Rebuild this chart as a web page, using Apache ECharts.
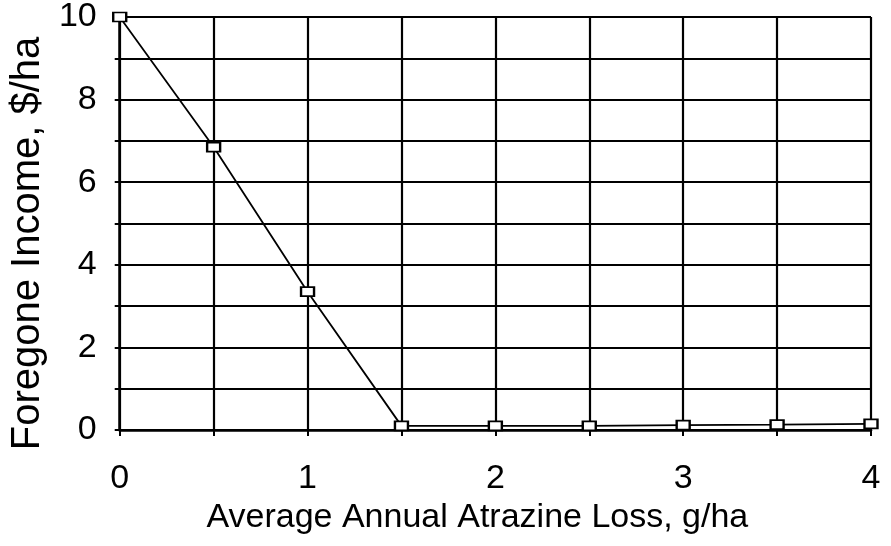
<!DOCTYPE html>
<html>
<head>
<meta charset="utf-8">
<style>
    html, body { margin: 0; padding: 0; background: #fff; }
    #chart { width: 891px; height: 546px; }
</style>
<script src="https://cdn.jsdelivr.net/npm/echarts@6/dist/echarts.min.js"></script>
</head>
<body>
<div id="chart"></div>
<script>
// atrazine loss (g/ha) vs foregone income ($/ha)
const atrazineLoss = [0, 0.5, 1, 1.5, 2, 2.5, 3, 3.5, 4];
const foregoneIncome = [10, 6.85, 3.35, 0.1, 0.1, 0.1, 0.12, 0.13, 0.15];
const xTickLabels = [0, 1, 2, 3, 4];
const yTickLabels = [0, 2, 4, 6, 8, 10];

const font = "'Liberation Sans', Arial, sans-serif";

let myChart = echarts.init(document.getElementById('chart'));
myChart.setOption({
    animation: false,
    backgroundColor: '#fff',
    grid: { left: 118, right: 20, top: 16, bottom: 116, containLabel: false },
    xAxis: {
        type: 'value',
        min: 0,
        max: 4,
        interval: 0.5,
        name: 'Average Annual Atrazine Loss, g/ha',
        nameLocation: 'middle',
        nameGap: 52,
        nameTextStyle: { fontFamily: font, fontSize: 34, color: '#000', padding: [0, 36, 0, 0] },
        axisLine: { lineStyle: { color: '#000', width: 2.5 } },
        axisTick: { show: true, length: 6, lineStyle: { color: '#000', width: 2 } },
        axisLabel: {
            margin: 32,
            fontFamily: font,
            fontSize: 34,
            color: '#000',
            formatter: v => xTickLabels.includes(v) ? String(v) : ''
        },
        splitLine: { show: true, lineStyle: { color: '#000', width: 2.2 } }
    },
    yAxis: {
        type: 'value',
        min: 0,
        max: 10,
        interval: 1,
        name: 'Foregone Income, $/ha',
        nameLocation: 'middle',
        nameGap: 68,
        nameTextStyle: { fontFamily: font, fontSize: 40, color: '#000', padding: [0, 40, 0, 0] },
        axisLine: { show: true, lineStyle: { color: '#000', width: 2.5 } },
        axisTick: { show: true, length: 5, lineStyle: { color: '#000', width: 2 } },
        axisLabel: {
            margin: 23,
            fontFamily: font,
            fontSize: 34,
            color: '#000',
            formatter: v => yTickLabels.includes(v) ? String(v) : ''
        },
        splitLine: { show: true, lineStyle: { color: '#000', width: 2.2 } }
    },
    series: [{
        type: 'line',
        data: atrazineLoss.map((x, i) => [x, foregoneIncome[i]]),
        symbol: 'rect',
        symbolSize: [13, 9],
        showAllSymbol: true,
        lineStyle: { color: '#000', width: 1.8 },
        itemStyle: { color: '#fff', borderColor: '#000', borderWidth: 2 },
        z: 5
    }]
});
</script>
</body>
</html>
